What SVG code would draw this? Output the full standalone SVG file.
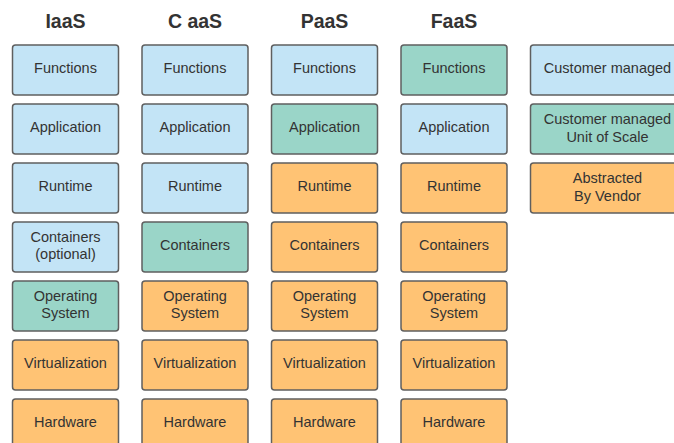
<svg xmlns="http://www.w3.org/2000/svg" width="674" height="443" viewBox="0 0 674 443">
  <style>
    .box { stroke: #5f5f5f; stroke-width: 1.5; }
    .cust { fill: #c3e4f6; }
    .unit { fill: #9ad5c8; }
    .vend { fill: #ffc374; }
    .lbl { font-family: "Liberation Sans", Arial, sans-serif; font-size: 14.5px; fill: #333333; text-anchor: middle; }
    .ttl { font-family: "Liberation Sans", Arial, sans-serif; font-size: 19.5px; font-weight: bold; fill: #333333; text-anchor: middle; }
  </style>
  <defs>
    <rect id="cell" width="106" height="50" rx="3" ry="3"/>
  </defs>
  <rect width="674" height="443" fill="#ffffff"/>

  <!-- column headings -->
  <g id="headings">
    <text class="ttl" x="65.5" y="28">IaaS</text>
    <text class="ttl" x="195" y="28">C aaS</text>
    <text class="ttl" x="324.5" y="28">PaaS</text>
    <text class="ttl" x="454" y="28">FaaS</text>
  </g>

  <!-- IaaS stack -->
  <g id="iaas">
    <g id="iaas-functions"><use href="#cell" x="12.5" y="45" class="box cust"/><text class="lbl" x="65.5" y="73">Functions</text></g>
    <g id="iaas-application"><use href="#cell" x="12.5" y="104" class="box cust"/><text class="lbl" x="65.5" y="132">Application</text></g>
    <g id="iaas-runtime"><use href="#cell" x="12.5" y="163" class="box cust"/><text class="lbl" x="65.5" y="191">Runtime</text></g>
    <g id="iaas-containers"><use href="#cell" x="12.5" y="222" class="box cust"/><text class="lbl" x="65.5" y="241.5">Containers</text><text class="lbl" x="65.5" y="259">(optional)</text></g>
    <g id="iaas-os"><use href="#cell" x="12.5" y="281" class="box unit"/><text class="lbl" x="65.5" y="300.5">Operating</text><text class="lbl" x="65.5" y="318">System</text></g>
    <g id="iaas-virtualization"><use href="#cell" x="12.5" y="340" class="box vend"/><text class="lbl" x="65.5" y="368">Virtualization</text></g>
    <g id="iaas-hardware"><use href="#cell" x="12.5" y="399" class="box vend"/><text class="lbl" x="65.5" y="427">Hardware</text></g>
  </g>

  <!-- CaaS stack -->
  <g id="caas">
    <g id="caas-functions"><use href="#cell" x="142" y="45" class="box cust"/><text class="lbl" x="195" y="73">Functions</text></g>
    <g id="caas-application"><use href="#cell" x="142" y="104" class="box cust"/><text class="lbl" x="195" y="132">Application</text></g>
    <g id="caas-runtime"><use href="#cell" x="142" y="163" class="box cust"/><text class="lbl" x="195" y="191">Runtime</text></g>
    <g id="caas-containers"><use href="#cell" x="142" y="222" class="box unit"/><text class="lbl" x="195" y="250">Containers</text></g>
    <g id="caas-os"><use href="#cell" x="142" y="281" class="box vend"/><text class="lbl" x="195" y="300.5">Operating</text><text class="lbl" x="195" y="318">System</text></g>
    <g id="caas-virtualization"><use href="#cell" x="142" y="340" class="box vend"/><text class="lbl" x="195" y="368">Virtualization</text></g>
    <g id="caas-hardware"><use href="#cell" x="142" y="399" class="box vend"/><text class="lbl" x="195" y="427">Hardware</text></g>
  </g>

  <!-- PaaS stack -->
  <g id="paas">
    <g id="paas-functions"><use href="#cell" x="271.5" y="45" class="box cust"/><text class="lbl" x="324.5" y="73">Functions</text></g>
    <g id="paas-application"><use href="#cell" x="271.5" y="104" class="box unit"/><text class="lbl" x="324.5" y="132">Application</text></g>
    <g id="paas-runtime"><use href="#cell" x="271.5" y="163" class="box vend"/><text class="lbl" x="324.5" y="191">Runtime</text></g>
    <g id="paas-containers"><use href="#cell" x="271.5" y="222" class="box vend"/><text class="lbl" x="324.5" y="250">Containers</text></g>
    <g id="paas-os"><use href="#cell" x="271.5" y="281" class="box vend"/><text class="lbl" x="324.5" y="300.5">Operating</text><text class="lbl" x="324.5" y="318">System</text></g>
    <g id="paas-virtualization"><use href="#cell" x="271.5" y="340" class="box vend"/><text class="lbl" x="324.5" y="368">Virtualization</text></g>
    <g id="paas-hardware"><use href="#cell" x="271.5" y="399" class="box vend"/><text class="lbl" x="324.5" y="427">Hardware</text></g>
  </g>

  <!-- FaaS stack -->
  <g id="faas">
    <g id="faas-functions"><use href="#cell" x="401" y="45" class="box unit"/><text class="lbl" x="454" y="73">Functions</text></g>
    <g id="faas-application"><use href="#cell" x="401" y="104" class="box cust"/><text class="lbl" x="454" y="132">Application</text></g>
    <g id="faas-runtime"><use href="#cell" x="401" y="163" class="box vend"/><text class="lbl" x="454" y="191">Runtime</text></g>
    <g id="faas-containers"><use href="#cell" x="401" y="222" class="box vend"/><text class="lbl" x="454" y="250">Containers</text></g>
    <g id="faas-os"><use href="#cell" x="401" y="281" class="box vend"/><text class="lbl" x="454" y="300.5">Operating</text><text class="lbl" x="454" y="318">System</text></g>
    <g id="faas-virtualization"><use href="#cell" x="401" y="340" class="box vend"/><text class="lbl" x="454" y="368">Virtualization</text></g>
    <g id="faas-hardware"><use href="#cell" x="401" y="399" class="box vend"/><text class="lbl" x="454" y="427">Hardware</text></g>
  </g>

  <!-- legend -->
  <g id="legend">
    <g id="legend-customer"><rect x="530.5" y="45" width="154" height="50" rx="3" ry="3" class="box cust"/><text class="lbl" x="607.5" y="73">Customer managed</text></g>
    <g id="legend-unit"><rect x="530.5" y="104" width="154" height="50" rx="3" ry="3" class="box unit"/><text class="lbl" x="607.5" y="124">Customer managed</text><text class="lbl" x="607.5" y="141.5">Unit of Scale</text></g>
    <g id="legend-vendor"><rect x="530.5" y="163" width="154" height="50" rx="3" ry="3" class="box vend"/><text class="lbl" x="607.5" y="183">Abstracted</text><text class="lbl" x="607.5" y="200.5">By Vendor</text></g>
  </g>

  <!-- no connectors in this diagram -->
  <g id="connectors"/>
</svg>
